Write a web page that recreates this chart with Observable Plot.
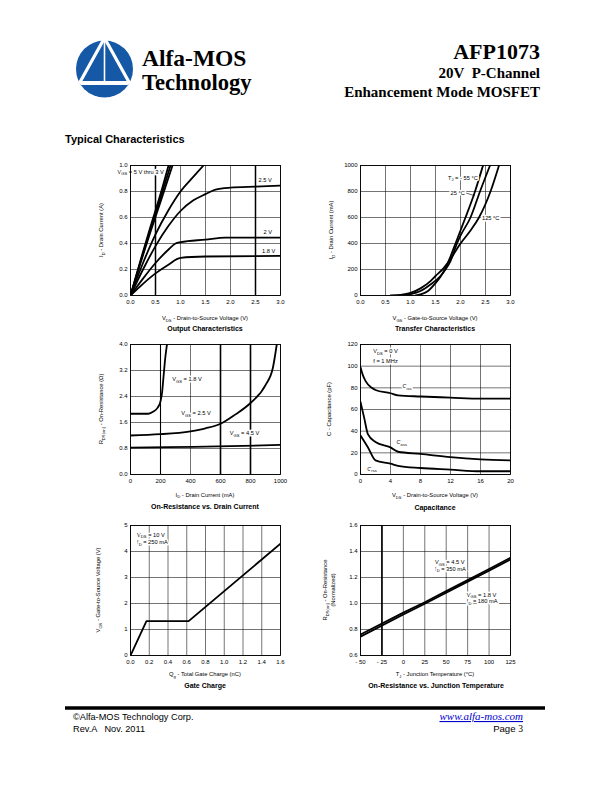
<!DOCTYPE html>
<html>
<head>
<meta charset="utf-8">
<script src="https://cdn.jsdelivr.net/npm/d3@7"></script>
<script src="https://cdn.jsdelivr.net/npm/@observablehq/plot@0.6"></script>
<style>
  html,body{margin:0;padding:0;background:#fff;}
  #page{position:relative;width:612px;height:792px;overflow:hidden;background:#fff;}
  #page svg text{paint-order:stroke;}
  .chart{position:absolute;}
</style>
</head>
<body>
<div id="page"></div>
<script>
// ---------------- DATA ----------------
// Output Characteristics: [VDS (V), ID (A)]
const outVgs5  = [[0,0],[0.2,0.27],[0.4,0.53],[0.6,0.78],[0.76,1.0]];
const outVgs4  = [[0,0],[0.2,0.26],[0.4,0.51],[0.6,0.75],[0.8,1.0]];
const outVgs35 = [[0,0],[0.2,0.25],[0.4,0.49],[0.6,0.72],[0.84,1.0]];
const outVgs3  = [[0,0],[0.25,0.25],[0.5,0.47],[0.75,0.65],[1.0,0.8],[1.25,0.91],[1.46,1.0]];
const outVgs25 = [[0,0],[0.25,0.2],[0.5,0.38],[0.75,0.53],[1.0,0.65],[1.25,0.73],[1.5,0.78],[1.7,0.815],[2.0,0.83],[2.5,0.838],[3.0,0.845]];
const outVgs2  = [[0,0],[0.25,0.13],[0.5,0.25],[0.75,0.35],[0.9,0.4],[1.0,0.41],[1.5,0.43],[1.9,0.445],[3.0,0.445]];
const outVgs18 = [[0,0],[0.25,0.09],[0.5,0.17],[0.75,0.235],[1.0,0.29],[1.5,0.3],[3.0,0.305]];
const outLabels = [[-0.26,0.95,"V_{GS} = 5 V thru 3 V"],[2.56,0.89,"2.5 V"],[2.66,0.49,"2 V"],[2.63,0.34,"1.8 V"]];

// Transfer Characteristics: [VGS (V), ID (mA)]
const trM55 = [[1.1,0],[1.2,8],[1.35,35],[1.5,95],[1.6,145],[1.7,210],[1.8,300],[1.9,400],[2.0,500],[2.1,600],[2.29,800],[2.45,1000]];
const tr25  = [[0.85,0],[1.0,10],[1.2,35],[1.4,85],[1.6,150],[1.7,200],[1.8,265],[1.93,400],[2.0,460],[2.2,600],[2.39,800],[2.59,1000]];
const tr125 = [[0.6,0],[0.8,5],[1.0,20],[1.2,55],[1.4,110],[1.5,150],[1.65,205],[1.8,280],[2.0,400],[2.2,500],[2.37,600],[2.6,800],[2.77,1000]];
const trLabels = [[1.75,905,"T_{J} = - 55 °C"],[1.8,790,"25 °C"],[2.43,598,"125 °C"]];
const trLeader = [[2.11,788],[2.28,768]];

// On-Resistance vs. Drain Current: [ID (mA), RDS(on) (ohm)]
const ronVgs18 = [[0,1.87],[120,1.87],[150,1.93],[180,2.05],[200,2.25],[210,2.5],[220,3.0],[232,3.6],[243,4.0]];
const ronVgs25 = [[0,1.2],[200,1.24],[400,1.33],[500,1.42],[600,1.56],[700,1.85],[800,2.2],[900,2.75],[950,3.3],[975,4.0]];
const ronVgs45 = [[0,0.83],[250,0.84],[500,0.86],[750,0.88],[1000,0.91]];
const ronLabels = [[278,2.92,"V_{GS} = 1.8 V"],[338,1.88,"V_{GS} = 2.5 V"],[662,1.26,"V_{GS} = 4.5 V"]];

// Capacitance: [VDS (V), C (pF)]
const cIss = [[0,99],[0.3,92],[0.7,86],[1.5,80],[2,78],[4,75],[5,73],[8,72],[12,71],[16,70],[20,70]];
const cOss = [[0,67],[0.5,52],[1,37],[2,30],[4,25],[5,21],[8,19],[12,16],[16,14],[20,13]];
const cRss = [[0,36],[1,25],[2,13],[4,10],[5,8],[8,6],[12,4.5],[16,3],[20,3]];
const capLabels = [[1.7,113.5,"V_{DS} = 0 V"],[1.7,105,"f = 1 MHz"],[5.6,81.5,"C_{iss}"],[4.8,29.6,"C_{oss}"],[0.9,5.2,"C_{rss}"]];

// Gate Charge: [Qg (nC), VGS (V)]
const gateQ = [[0,0],[0.17,1.32],[0.62,1.32],[1.6,4.3]];
const gateLabels = [[0.07,4.64,"V_{DS} = 10 V"],[0.07,4.36,"I_{D} = 250 mA"]];

// On-Resistance vs. Junction Temperature: [TJ (°C), normalized RDS(on)]
const tjVgs45 = [[-50,0.762],[0,0.93],[25,1.01],[50,1.095],[75,1.18],[100,1.265],[125,1.352]];
const tjVgs18 = [[-50,0.745],[0,0.915],[25,0.998],[50,1.083],[75,1.168],[100,1.253],[125,1.338]];
const tjLabels = [[37,1.318,"V_{GS} = 4.5 V"],[37,1.267,"I_{D} = 350 mA"],[74,1.067,"V_{GS} = 1.8 V"],[74,1.015,"I_{D} = 180 mA"]];

// Tick values
const xTicksV   = [0,0.5,1,1.5,2,2.5,3];
const yTicksOut = [0,0.2,0.4,0.6,0.8,1.0];
const yTicksTr  = [0,200,400,600,800,1000];
const xTicksId  = [0,200,400,600,800,1000];
const yTicksRon = [0,0.8,1.6,2.4,3.2,4.0];
const xTicksCap = [0,4,8,12,16,20];
const yTicksCap = [0,20,40,60,80,100,120];
const xTicksQg  = [0,0.2,0.4,0.6,0.8,1.0,1.2,1.4,1.6];
const yTicksQg  = [0,1,2,3,4,5];
const xTicksTj  = [-50,-25,0,25,50,75,100,125];
const yTicksTj  = [0.6,0.8,1.0,1.2,1.4,1.6];

// ---------------- HELPERS ----------------
const page = document.getElementById("page");
const NS = "http://www.w3.org/2000/svg";
function esc(s){return s.replace(/&/g,"&amp;").replace(/</g,"&lt;").replace(/>/g,"&gt;");}
function rich(str, fs){
  const sf=(fs*0.72).toFixed(2), sh=(fs*0.28).toFixed(2);
  let out="", pending=false;
  for(const p of str.split(/(_\{[^}]*\})/)){
    if(!p) continue;
    if(p.startsWith("_{")){ out+=`<tspan font-size="${sf}" dy="${sh}">${esc(p.slice(2,-1))}</tspan>`; pending=true; }
    else { out+= pending?`<tspan dy="-${sh}">${esc(p)}</tspan>`:esc(p); pending=false; }
  }
  if(pending) out+=`<tspan dy="-${sh}"> </tspan>`;
  return out;
}

const FW=150, FH=130, ML=32, MT=8, MR=14, MB=14;
const LABEL_FS = 5.7;
function chart(o){
  const marks = [
    Plot.ruleX(o.xTicks,{stroke:"#000",strokeWidth:0.55}),
    Plot.ruleY(o.yTicks,{stroke:"#000",strokeWidth:0.55})
  ];
  if(o.thick) marks.push(Plot.ruleX(o.thick,{x:d=>d[0],strokeWidth:d=>d[1],stroke:"#000"}));
  for(const s of o.series){
    marks.push(Plot.line(s.data,{x:d=>d[0],y:d=>d[1],stroke:"#000",strokeWidth:s.w||1.8,curve:s.curve||"monotone-x",clip:true}));
  }
  if(o.extra) marks.push(...o.extra);
  if(o.labels) marks.push(Plot.text(o.labels,{x:d=>d[0],y:d=>d[1],text:d=>d[2],textAnchor:"start",fontSize:LABEL_FS,fill:"#000",stroke:"#fff",strokeWidth:3}));
  marks.push(Plot.frame({stroke:"#000",strokeWidth:0.9}));
  const svg = Plot.plot({
    width:ML+FW+MR, height:MT+FH+MB,
    marginLeft:ML, marginTop:MT, marginRight:MR, marginBottom:MB,
    style:{fontFamily:"'Liberation Sans', Arial, sans-serif",fontSize:"6px",background:"transparent",color:"#000",overflow:"visible"},
    x:{domain:o.xDomain,ticks:o.xTicks,tickSize:0,tickPadding:4,label:null,tickFormat:o.xFmt},
    y:{domain:o.yDomain,ticks:o.yTicks,tickSize:0,tickPadding:3,label:null,tickFormat:o.yFmt},
    marks
  });
  svg.classList.add("chart");
  svg.style.left=(o.left-ML)+"px";
  svg.style.top=(o.top-MT)+"px";
  svg.querySelectorAll("text").forEach(t=>{
    if(t.textContent.includes("_{")) t.innerHTML = rich(t.textContent, LABEL_FS);
  });
  page.appendChild(svg);
}

const f1 = d3.format(".1f");
// 1. Output Characteristics
chart({left:130,top:165,xDomain:[0,3],yDomain:[0,1],xTicks:xTicksV,yTicks:yTicksOut,xFmt:f1,yFmt:f1,
  thick:[[0.5,1.5],[2.5,1.5]],
  series:[{data:outVgs5},{data:outVgs4},{data:outVgs35},{data:outVgs3},{data:outVgs25},{data:outVgs2},{data:outVgs18}],
  labels:outLabels});
// 2. Transfer Characteristics
chart({left:360,top:165,xDomain:[0,3],yDomain:[0,1000],xTicks:xTicksV,yTicks:yTicksTr,xFmt:f1,yFmt:d3.format("d"),
  series:[{data:trM55},{data:tr25},{data:tr125}],
  extra:[Plot.line(trLeader,{x:d=>d[0],y:d=>d[1],stroke:"#000",strokeWidth:0.6})],
  labels:trLabels});
// 3. On-Resistance vs. Drain Current
chart({left:130,top:344,xDomain:[0,1000],yDomain:[0,4],xTicks:xTicksId,yTicks:yTicksRon,xFmt:d3.format("d"),yFmt:f1,
  thick:[[200,1.1],[600,1.6],[800,1.6]],
  series:[{data:ronVgs18},{data:ronVgs25},{data:ronVgs45}],
  labels:ronLabels});
// 4. Capacitance
chart({left:360,top:344,xDomain:[0,20],yDomain:[0,120],xTicks:xTicksCap,yTicks:yTicksCap,xFmt:d3.format("d"),yFmt:d3.format("d"),
  series:[{data:cIss},{data:cOss},{data:cRss}],
  labels:capLabels});
// 5. Gate Charge
chart({left:130,top:525,xDomain:[0,1.6],yDomain:[0,5],xTicks:xTicksQg,yTicks:yTicksQg,xFmt:f1,yFmt:d3.format("d"),
  series:[{data:gateQ,curve:"linear"}],
  labels:gateLabels});
// 6. On-Resistance vs. Junction Temperature
chart({left:360,top:525,xDomain:[-50,125],yDomain:[0.6,1.6],xTicks:xTicksTj,yTicks:yTicksTj,
  xFmt:d=>d<0?"- "+(-d):String(d),yFmt:f1,
  thick:[[-25,1.6]],
  series:[{data:tjVgs45,curve:"linear"},{data:tjVgs18,curve:"linear"}],
  labels:tjLabels});

// ---------------- OVERLAY (header, axis titles, footer) ----------------
const SANS="'Liberation Sans', Arial, sans-serif", SERIF="'Liberation Serif', 'Times New Roman', serif";
function txt(x,y,str,fs,opts={}){
  const a = opts.anchor||"start";
  const tr = opts.rotate ? `transform="translate(${x},${y}) rotate(-90)"` : `x="${x}" y="${y}"`;
  return `<text ${tr} text-anchor="${a}" font-size="${fs}" font-family="${opts.family||SANS}" font-weight="${opts.weight||"normal"}" font-style="${opts.style||"normal"}" fill="${opts.fill||"#000"}" ${opts.deco?`text-decoration="${opts.deco}"`:""} style="white-space:pre">${rich(str,fs)}</text>`;
}
const AX=5.8, TT=7;
let o = `<svg xmlns="${NS}" width="612" height="792" style="position:absolute;left:0;top:0">`;
// logo
o += `<g transform="translate(104.5,69)">
  <defs><clipPath id="lc"><circle r="28.5"/></clipPath></defs>
  <circle r="28.5" fill="#1458a6"/>
  <g clip-path="url(#lc)">
    <rect x="-30" y="12" width="60" height="4" fill="#fff"/>
  </g>
  <path d="M0,-31 L-25,14 M0,-31 L25,14" stroke="#fff" stroke-width="3.2" fill="none"/>
  <path d="M0,-30 L0,13" stroke="#fff" stroke-width="1.6"/>
</g>`;
o += txt(142,66,"Alfa-MOS",23.5,{family:SERIF,weight:"bold"});
o += txt(142,90,"Technology",22.6,{family:SERIF,weight:"bold"});
o += txt(540,59,"AFP1073",22,{family:SERIF,weight:"bold",anchor:"end"});
o += txt(540,78,"20V  P-Channel",15,{family:SERIF,weight:"bold",anchor:"end"});
o += txt(540,97,"Enhancement Mode MOSFET",15,{family:SERIF,weight:"bold",anchor:"end"});
o += txt(65,143,"Typical Characteristics",11,{weight:"bold"});
// chart 1
o += txt(103,230,"I_{D} - Drain Current (A)",AX,{rotate:true,anchor:"middle"});
o += txt(205,320,"V_{DS} - Drain-to-Source Voltage (V)",AX,{anchor:"middle"});
o += txt(205,330.5,"Output Characteristics",TT,{anchor:"middle",weight:"bold"});
// chart 2
o += txt(333,230,"I_{D} - Drain Current (mA)",AX,{rotate:true,anchor:"middle"});
o += txt(435,320,"V_{GS} - Gate-to-Source Voltage (V)",AX,{anchor:"middle"});
o += txt(435,330.5,"Transfer Characteristics",TT,{anchor:"middle",weight:"bold"});
// chart 3
o += txt(103,409,"R_{DS(on)} - On-Resistance (Ω)",AX,{rotate:true,anchor:"middle"});
o += txt(205,496.5,"I_{D} - Drain Current (mA)",AX,{anchor:"middle"});
o += txt(205,508.5,"On-Resistance vs. Drain Current",TT,{anchor:"middle",weight:"bold"});
// chart 4
o += txt(331,409,"C - Capacitance (pF)",AX,{rotate:true,anchor:"middle"});
o += txt(435,497,"V_{DS} - Drain-to-Source Voltage (V)",AX,{anchor:"middle"});
o += txt(435,509.5,"Capacitance",TT,{anchor:"middle",weight:"bold"});
// chart 5
o += txt(100,590,"V_{GS} - Gate-to-Source Voltage (V)",AX,{rotate:true,anchor:"middle"});
o += txt(205,676,"Q_{g} - Total Gate Charge (nC)",AX,{anchor:"middle"});
o += txt(205,688,"Gate Charge",TT,{anchor:"middle",weight:"bold"});
// chart 6
o += txt(327,590,"R_{DS(on)} - On-Resistance",AX,{rotate:true,anchor:"middle"});
o += txt(334.5,590,"(Normalized)",AX,{rotate:true,anchor:"middle"});
o += txt(435,676,"T_{J} - Junction Temperature (°C)",AX,{anchor:"middle"});
o += txt(436,688,"On-Resistance vs. Junction Temperature",TT,{anchor:"middle",weight:"bold"});
// footer
o += `<line x1="65" x2="545" y1="708" y2="708" stroke="#000" stroke-width="3.5"/>`;
o += txt(73,719.5,"©Alfa-MOS Technology Corp.",9.2);
o += txt(73,731.5,"Rev.A   Nov. 2011",9.2);
o += txt(523,720,"www.alfa-mos.com",11,{family:SERIF,style:"italic",fill:"#0000cc",anchor:"end",deco:"underline"});
o += `<text x="523" y="731.5" text-anchor="end" font-size="9.6" font-family="${SANS}">Page <tspan font-family="${SERIF}">3</tspan></text>`;
o += `</svg>`;
page.insertAdjacentHTML("afterbegin", o);
</script>
</body>
</html>
